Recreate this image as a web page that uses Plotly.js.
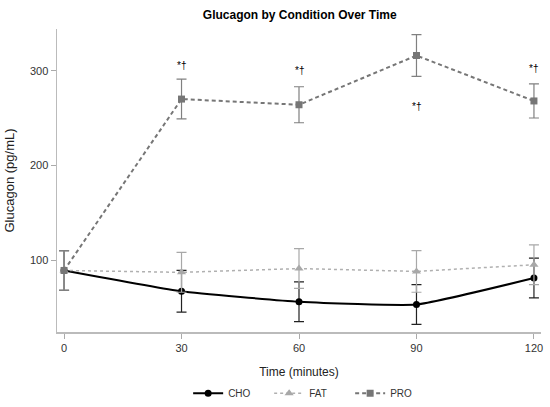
<!DOCTYPE html>
<html><head><meta charset="utf-8">
<script src="https://cdn.plot.ly/plotly-3.0.1.min.js"></script>
<style>html,body{margin:0;padding:0;background:#fff}#chart{width:550px;height:407px}</style>
</head><body><div id="chart"></div>
<script>
const times = [0, 30, 60, 90, 120];
const choMean = [89, 67, 56, 53, 81];
const choErr  = [21, 22, 21, 21, 21];
const fatMean = [89, 87, 91, 88, 95];
const fatErr  = [21, 21, 21, 22, 21];
const proMean = [89, 270, 264, 316, 268];
const proErr  = [21, 21, 19, 22, 18];
const sigLabel = '*†';
const sigTimes = [30, 60, 90, 120];
const sigY = [305, 300, 262, 302];

const traces = [
  {x: times, y: choMean, name: 'CHO', type: 'scatter', mode: 'lines+markers',
   line: {color: '#000', width: 2, shape: 'spline', smoothing: 0.4},
   marker: {symbol: 'circle', size: 7, color: '#000'},
   error_y: {type: 'data', array: choErr, visible: true, color: '#222', thickness: 1.2, width: 5}},
  {x: times, y: fatMean, name: 'FAT', type: 'scatter', mode: 'lines+markers',
   line: {color: '#b0b0b0', width: 1.5, dash: 'dot'},
   marker: {symbol: 'triangle-up', size: 8, color: '#a8a8a8'},
   error_y: {type: 'data', array: fatErr, visible: true, color: '#a8a8a8', thickness: 1.2, width: 5}},
  {x: times, y: proMean, name: 'PRO', type: 'scatter', mode: 'lines+markers',
   line: {color: '#767676', width: 2, dash: '4px,3px'},
   marker: {symbol: 'square', size: 7, color: '#767676'},
   error_y: {type: 'data', array: proErr, visible: true, color: '#808080', thickness: 1.2, width: 5}}
];

const annotations = sigTimes.map((t, i) => ({
  x: t, y: sigY[i], text: sigLabel, showarrow: false,
  font: {family: 'Liberation Sans, Arial, sans-serif', size: 10, color: '#000'}
}));

const layout = {
  width: 550, height: 407,
  margin: {l: 57, r: 9, t: 29, b: 75},
  paper_bgcolor: '#fff', plot_bgcolor: '#fff',
  font: {family: 'Liberation Sans, Arial, sans-serif', size: 11, color: '#333'},
  title: {text: '<b>Glucagon by Condition Over Time</b>', x: 0.545, xanchor: 'center', y: 0.963, yanchor: 'middle',
          font: {size: 12, color: '#000'}},
  xaxis: {range: [-1.8, 121.8], tickvals: times, ticks: 'outside', ticklen: 5, tickcolor: '#aaa',
          showline: true, linecolor: '#bbb', linewidth: 1.5, showgrid: false, zeroline: false, automargin: false,
          title: {text: 'Time (minutes)', font: {size: 12, color: '#222'}, standoff: 15}},
  yaxis: {range: [24, 344], tickvals: [100, 200, 300], ticks: 'outside', ticklen: 5, tickcolor: '#aaa',
          showline: true, linecolor: '#bbb', linewidth: 1.5, showgrid: false, zeroline: false, automargin: false,
          title: {text: 'Glucagon (pg/mL)', font: {size: 13, color: '#222'}, standoff: 12}},
  legend: {orientation: 'h', x: 0.522, xanchor: 'center', yref: 'container', y: 0.034, yanchor: 'middle',
           entrywidth: 36, entrywidthmode: 'pixels',
           font: {size: 10, color: '#333'}},
  annotations: annotations,
  showlegend: true
};
Plotly.newPlot('chart', traces, layout, {displayModeBar: false, staticPlot: true});
</script></body></html>
